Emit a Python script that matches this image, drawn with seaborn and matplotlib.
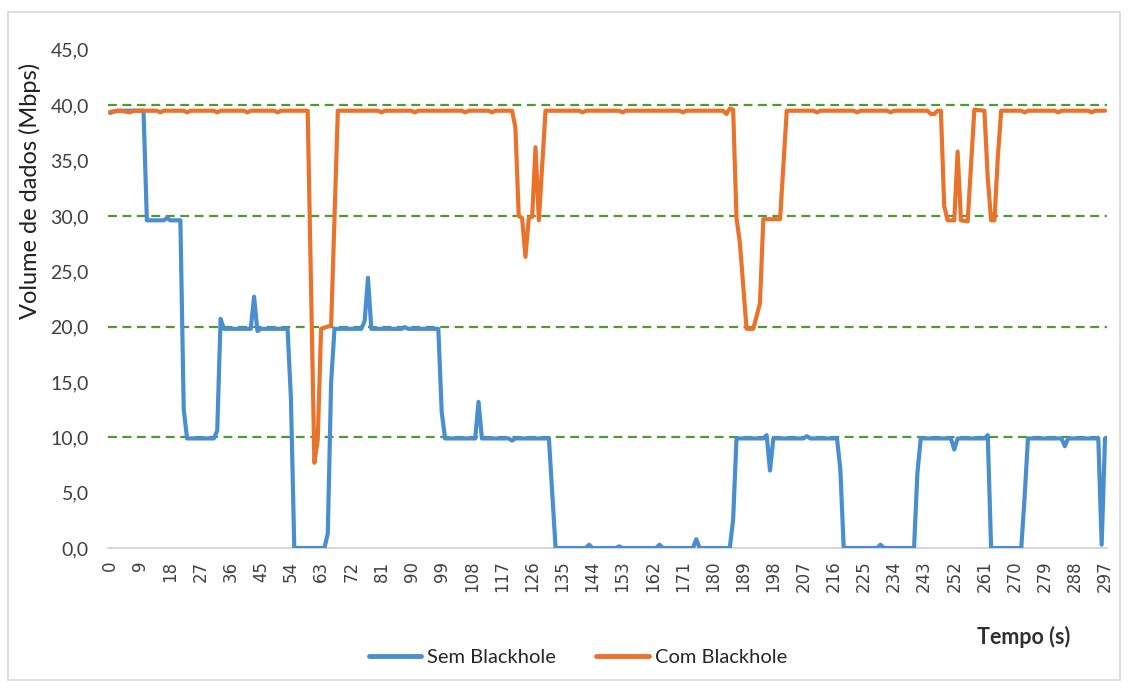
import matplotlib
matplotlib.use("Agg")
import matplotlib.pyplot as plt
import matplotlib.ticker as mticker
from matplotlib.patches import Rectangle
import seaborn as sns
import pandas as pd

# Sem Blackhole (tempo, volume)
sem_t = [0, 2, 10, 11, 16, 17, 18, 21, 22, 23, 31, 32, 33, 34, 42, 43, 44, 45,
         53, 54, 55, 64, 65, 66, 67, 75, 76, 77, 78, 87, 88, 89, 98, 99, 100,
         109, 110, 111, 119, 120, 121, 131, 133, 142, 143, 144, 151, 152, 153,
         163, 164, 165, 174, 175, 176, 185, 186, 187, 195, 196, 197, 198,
         207, 208, 209, 217, 218, 219, 229, 230, 231, 240, 241, 242, 251, 252,
         253, 261, 262, 263, 272, 273, 274, 284, 285, 286, 295, 296, 297]
sem_v = [39.3, 39.5, 39.5, 29.6, 29.6, 29.8, 29.6, 29.6, 12.5, 9.9, 9.9, 10.6, 20.7, 19.8, 19.8, 22.7, 19.6, 19.8,
         19.8, 13.5, 0.0, 0.0, 1.3, 15.0, 19.8, 19.8, 20.5, 24.4, 19.8, 19.8, 19.95, 19.8, 19.8, 12.3, 9.9,
         9.9, 13.2, 9.9, 9.9, 9.7, 9.9, 9.9, 0.0, 0.0, 0.3, 0.0, 0.0, 0.15, 0.0,
         0.0, 0.3, 0.0, 0.0, 0.8, 0.0, 0.0, 2.6, 9.9, 9.9, 10.2, 7.0, 9.9,
         9.9, 10.1, 9.9, 9.9, 7.1, 0.0, 0.0, 0.3, 0.0, 0.0, 6.8, 9.9, 9.9, 8.9,
         9.9, 9.9, 10.2, 0.0, 0.0, 4.6, 9.9, 9.9, 9.2, 9.9, 9.9, 0.3, 9.9]

# Com Blackhole (tempo, volume)
com_t = [0, 3, 6, 7, 14, 15, 16, 22, 23, 24, 31, 32, 33, 40, 41, 42, 49, 50, 51,
         59, 61, 62, 63, 66, 68, 80, 81, 82, 90, 91, 92, 105, 106, 107, 113, 114, 115,
         120, 121, 122, 123, 124, 125, 126, 127, 128, 130, 140, 141, 142, 152, 153, 154,
         170, 171, 172, 183, 184, 185, 186, 187, 188, 190, 192, 194, 195, 200, 202,
         210, 211, 212, 222, 223, 224, 232, 233, 234, 244, 245, 246, 247, 248, 249, 250,
         252, 253, 254, 256, 258, 261, 262, 263, 264, 265, 266, 272, 273, 274,
         282, 283, 284, 292, 293, 294, 297]
com_v = [39.4, 39.5, 39.35, 39.5, 39.5, 39.35, 39.5, 39.5, 39.35, 39.5, 39.5, 39.35, 39.5, 39.5, 39.35, 39.5, 39.5, 39.35, 39.5,
         39.5, 7.7, 9.8, 19.8, 20.1, 39.5, 39.5, 39.35, 39.5, 39.5, 39.35, 39.5, 39.5, 39.35, 39.5, 39.5, 39.35, 39.5,
         39.5, 38.0, 30.0, 29.8, 26.3, 29.8, 29.9, 36.2, 29.6, 39.5, 39.5, 39.35, 39.5, 39.5, 39.35, 39.5,
         39.5, 39.35, 39.5, 39.5, 39.2, 39.7, 39.6, 29.8, 27.6, 19.8, 19.8, 22.1, 29.7, 29.7, 39.5,
         39.5, 39.35, 39.5, 39.5, 39.35, 39.5, 39.5, 39.35, 39.5, 39.5, 39.2, 39.2, 39.5, 39.5, 30.9, 29.6,
         29.6, 35.8, 29.6, 29.5, 39.6, 39.5, 33.4, 29.6, 29.6, 35.3, 39.5, 39.5, 39.35, 39.5,
         39.5, 39.35, 39.5, 39.5, 39.35, 39.5, 39.5]

series_names = ["Sem Blackhole", "Com Blackhole"]
x_ticks = list(range(0, 298, 9))
y_ticks = [0, 5, 10, 15, 20, 25, 30, 35, 40, 45]
grid_levels = [10, 20, 30, 40]

df = pd.concat([
    pd.DataFrame({"Tempo": sem_t, "Volume": sem_v, "Serie": series_names[0]}),
    pd.DataFrame({"Tempo": com_t, "Volume": com_v, "Serie": series_names[1]}),
])

sns.set_theme(style="white")
plt.rcParams["font.family"] = ["Lato", "DejaVu Sans"]

fig = plt.figure(figsize=(11.31, 6.91), dpi=100)
ax = fig.add_axes([0.0958, 0.2069, 0.8830, 0.7210])

# linhas de grade tracejadas verdes
for lvl in grid_levels:
    ax.axhline(lvl, color="#4f9a32", linestyle=(0, (4, 2.5)), linewidth=1.6, zorder=1)

sns.lineplot(data=df, x="Tempo", y="Volume", hue="Serie", estimator=None, sort=False,
             palette={"Sem Blackhole": "#4a8ed0", "Com Blackhole": "#ea732b"},
             linewidth=3.0, ax=ax, zorder=3)

ax.set_xlim(-0.5, 297.6)
ax.set_ylim(0, 45)
ax.set_xticks(x_ticks)
ax.set_xticklabels([str(t) for t in x_ticks], rotation=90, fontsize=12,
                   family="DejaVu Sans", color="#404040")
ax.set_yticks(y_ticks)
ax.yaxis.set_major_formatter(mticker.FuncFormatter(lambda v, p: f"{v:.1f}".replace(".", ",")))
ax.tick_params(axis="y", length=0, pad=14, labelsize=14, labelcolor="#404040")
ax.tick_params(axis="x", length=0, pad=9)

for s in ["left", "right", "top"]:
    ax.spines[s].set_visible(False)
ax.spines["bottom"].set_color("#d0d0d0")
ax.spines["bottom"].set_linewidth(1.2)

ax.set_ylabel("")
ax.set_xlabel("")
fig.text(30 / 1131, 1 - 191 / 691, "Volume de dados (Mbps)", rotation=90, ha="center", va="center",
         fontsize=17, color="#202020")
fig.text(1070 / 1131, 1 - 637 / 691, "Tempo (s)", ha="right", va="center",
         fontsize=15.5, fontweight="bold", color="#303030")

sns.move_legend(ax, "center", bbox_to_anchor=(0.47, -0.219), ncol=2, frameon=False,
                title=None, fontsize=14.5, handlelength=2.6, columnspacing=2.0, handletextpad=0.3)
for line in ax.get_legend().get_lines():
    line.set_linewidth(3.5)

# borda do grafico
fig.patches.append(Rectangle((8 / 1131, 1 - 680 / 691), 1112 / 1131, 668 / 691,
                             transform=fig.transFigure, fill=False,
                             edgecolor="#d9d9d9", linewidth=1.2))

fig.savefig("out.png", dpi=100)
